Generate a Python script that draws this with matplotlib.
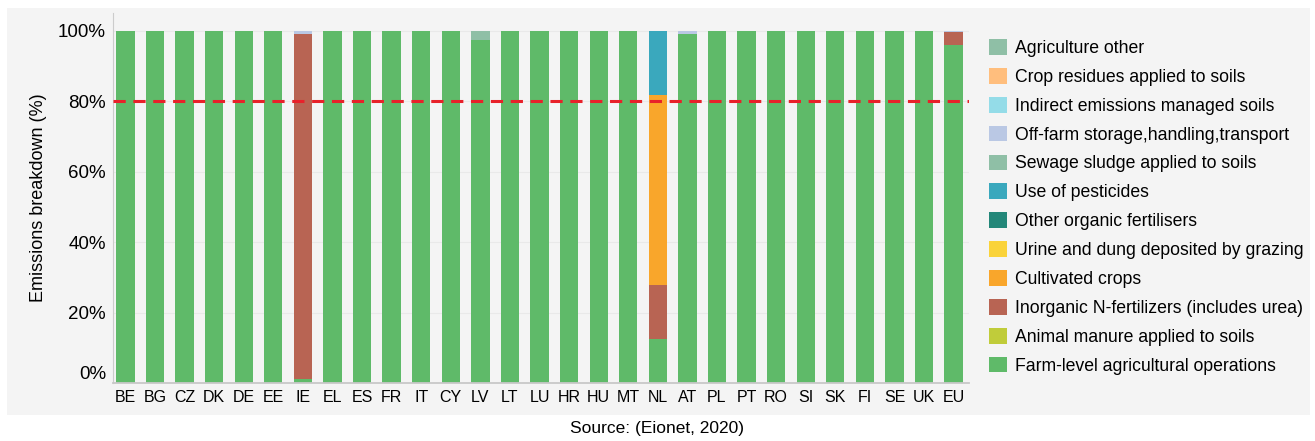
import matplotlib
matplotlib.use("Agg")
import matplotlib.pyplot as plt
from matplotlib.patches import Rectangle
import numpy as np

plt.rcParams["font.family"] = ["Liberation Sans", "DejaVu Sans"]

countries = ["BE", "BG", "CZ", "DK", "DE", "EE", "IE", "EL", "ES", "FR", "IT",
             "CY", "LV", "LT", "LU", "HR", "HU", "MT", "NL", "AT", "PL", "PT",
             "RO", "SI", "SK", "FI", "SE", "UK", "EU"]
n = len(countries)


def series(**vals):
    arr = np.zeros(n)
    for k, v in vals.items():
        arr[countries.index(k)] = v
    return arr


# shares in %, stacked bottom -> top
inorganic = series(IE=98.0, NL=15.3, EU=3.5)
cultivated = series(NL=54.0)
pesticides = series(NL=18.2)
offfarm = series(IE=1.0, AT=1.0, EU=0.5)
agri_other = series(LV=2.8)
animal_manure = np.zeros(n)
urine = np.zeros(n)
other_org = np.zeros(n)
sewage = np.zeros(n)
indirect = np.zeros(n)
crop_res = np.zeros(n)
farm = 100 - (inorganic + cultivated + pesticides + offfarm + agri_other)

layers = [
    ("Farm-level agricultural operations", farm, "#5fba69"),
    ("Animal manure applied to soils", animal_manure, "#c0cc3a"),
    ("Inorganic N-fertilizers (includes urea)", inorganic, "#b86453"),
    ("Cultivated crops", cultivated, "#f9a62b"),
    ("Urine and dung deposited by grazing", urine, "#fad33a"),
    ("Other organic fertilisers", other_org, "#238779"),
    ("Use of pesticides", pesticides, "#3aa8bd"),
    ("Sewage sludge applied to soils", sewage, "#8fbfa6"),
    ("Off-farm storage,handling,transport", offfarm, "#bac8e4"),
    ("Indirect emissions managed soils", indirect, "#94dce8"),
    ("Crop residues applied to soils", crop_res, "#ffbe7d"),
    ("Agriculture other", agri_other, "#8fbfa6"),
]

fig = plt.figure(figsize=(13.15, 4.41), dpi=100)
fig.patches.append(Rectangle((7 / 1315, 1 - 415 / 441), 1303 / 1315, 407 / 441,
                             transform=fig.transFigure, facecolor="#f4f4f4",
                             edgecolor="none", zorder=-10))
ax = fig.add_axes([113 / 1315, 1 - 383 / 441, (969 - 113) / 1315, (383 - 13) / 441])
ax.set_facecolor("#f4f4f4")

x = np.arange(n)
bottom = np.zeros(n)
handles = []
for label, vals, color in layers:
    h = ax.bar(x, vals, 0.62, bottom=bottom, color=color, label=label,
               edgecolor="none", zorder=2)
    handles.append(h)
    bottom += vals

ax.axhline(80, color="#e8212a", lw=2.2, ls=(0, (4, 2.5)), zorder=3)

ax.set_xlim(-0.42, n - 0.48)
ax.set_ylim(0, 105)
ax.set_yticks([0, 20, 40, 60, 80, 100])
ax.set_yticklabels(["0%", "20%", "40%", "60%", "80%", "100%"], fontsize=13.5)
ax.get_yticklabels()[0].set_va("bottom")
ax.set_xticks(x)
ax.set_xticklabels(countries, fontsize=11.5)
ax.tick_params(length=0, pad=5)
ax.grid(axis="y", color="#e9e9e9", lw=0.8, zorder=0)
for s in ["top", "right"]:
    ax.spines[s].set_visible(False)
ax.spines["left"].set_color("#cccccc")
ax.spines["bottom"].set_color("#c8c8c8")
ax.spines["bottom"].set_linewidth(1.3)
ax.set_ylabel("Emissions breakdown (%)", fontsize=13, labelpad=8)

leg = ax.legend(handles[::-1], [l[0] for l in layers[::-1]],
                loc="upper left", bbox_to_anchor=(982 / 1315, 1 - 32 / 441),
                bbox_transform=fig.transFigure, frameon=False, fontsize=12.7,
                handlelength=1.0, handleheight=1.0, handletextpad=0.45,
                labelspacing=0.62, borderaxespad=0)

fig.text(657 / 1315, 1 - 428 / 441, "Source: (Eionet, 2020)", ha="center",
         va="center", fontsize=12.5)

fig.savefig("out.png", dpi=100, facecolor="white")
